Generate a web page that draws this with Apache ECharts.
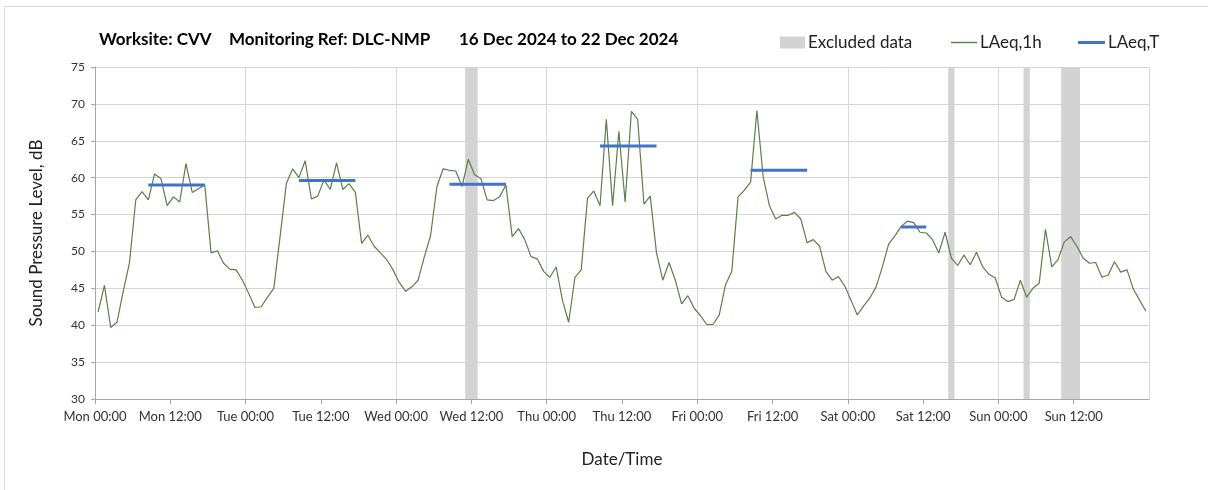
<!DOCTYPE html>
<html>

<head>
    <title></title>
    <meta charset="utf-8">
    <script src="https://cdn.jsdelivr.net/npm/echarts@6/dist/echarts.min.js"></script>
    <style>
        html,
        body {
            margin: 0;
            padding: 0;
            background: #fff;
        }

        #main {
            width: 1208px;
            height: 490px;
        }
    </style>
</head>

<body>
    <div id="main"></div>
    <script type="text/javascript">
        // hourly LAeq,1h values, one array per day (points at hh:30)
        var mon = [41.8, 45.4, 39.7, 40.4, 44.6, 48.5, 57.0, 58.1, 57.0, 60.5, 59.9, 56.2, 57.4, 56.7, 61.9, 58.0, 58.5, 59.0, 49.8, 50.1, 48.4, 47.6, 47.5, 46.1];
        var tue = [44.3, 42.4, 42.5, 43.8, 45.0, 52.0, 59.2, 61.2, 60.0, 62.3, 57.1, 57.5, 59.7, 58.4, 62.0, 58.4, 59.2, 58.0, 51.1, 52.2, 50.7, 49.8, 48.9, 47.5];
        var wed = [45.8, 44.6, 45.2, 46.1, 49.3, 52.2, 58.8, 61.2, 61.0, 60.9, 58.8, 62.5, 60.4, 59.9, 57.0, 56.9, 57.4, 59.0, 52.0, 53.1, 51.6, 49.3, 49.0, 47.3];
        var thu = [46.5, 47.9, 43.4, 40.4, 46.5, 47.5, 57.2, 58.2, 56.2, 67.9, 56.2, 66.3, 56.7, 69.0, 67.9, 56.4, 57.5, 49.8, 46.1, 48.5, 46.1, 42.9, 44.0, 42.3];
        var fri = [41.3, 40.1, 40.1, 41.4, 45.5, 47.3, 57.4, 58.3, 59.4, 69.1, 60.1, 56.2, 54.4, 54.9, 54.9, 55.3, 54.4, 51.2, 51.6, 50.7, 47.3, 46.1, 46.6, 45.3];
        var sat = [43.4, 41.4, 42.6, 43.7, 45.2, 47.9, 51.0, 52.1, 53.4, 54.1, 53.9, 52.6, 52.5, 51.6, 49.8, 52.6, 49.1, 48.1, 49.5, 48.2, 49.9, 47.9, 46.9, 46.4];
        var sun = [43.8, 43.2, 43.5, 46.1, 43.8, 45.0, 45.7, 53.0, 47.9, 48.9, 51.3, 52.0, 50.7, 49.1, 48.4, 48.5, 46.5, 46.8, 48.6, 47.2, 47.5, 44.9, 43.4, 41.9];

        // LAeq,T periods (hours from Mon 00:00)
        var tStart = [8.5, 32.5, 56.5, 80.5, 104.5, 128.5];
        var tEnd = [17.5, 41.5, 65.5, 89.5, 113.5, 132.5];
        var tValue = [59.0, 59.6, 59.1, 64.3, 61.0, 53.3];

        // excluded data periods (hours from Mon 00:00)
        var exStart = [59, 136, 148, 154];
        var exEnd = [61, 137, 149, 157];

        var dayNames = ['Mon', 'Tue', 'Wed', 'Thu', 'Fri', 'Sat', 'Sun', 'Mon'];
        var fontName = 'Lato, "Open Sans", sans-serif';

        var days = [mon, tue, wed, thu, fri, sat, sun];
        var hourly = [];
        days.forEach(function (d, di) {
            d.forEach(function (v, hi) {
                hourly.push([di * 24 + hi + 0.5, v]);
            });
        });

        var periods = [];
        for (var i = 0; i < tStart.length; i++) {
            periods.push([tStart[i], tValue[i]]);
            periods.push([tEnd[i], tValue[i]]);
            periods.push('-');
        }

        var areas = [];
        for (var j = 0; j < exStart.length; j++) {
            areas.push([{ xAxis: exStart[j] }, { xAxis: exEnd[j] }]);
        }

        var titleStyle = { fontSize: 17, fontWeight: 'bold', color: '#000', fontFamily: fontName };
        var legendText = { fontSize: 17, color: '#222', fontFamily: fontName, padding: [0, 0, 0, -2] };

        var myChart = echarts.init(document.getElementById('main'));
        var option = {
            animation: false,
            textStyle: { fontFamily: fontName },
            graphic: [{
                type: 'rect',
                shape: { x: 4.5, y: 6.5, width: 1220, height: 500 },
                style: { fill: 'none', stroke: '#d9d9d9', lineWidth: 1 },
                silent: true
            }],
            title: [
                { text: 'Worksite: CVV', left: 94, top: 26, textStyle: titleStyle },
                { text: 'Monitoring Ref: DLC-NMP', left: 224, top: 26, textStyle: titleStyle },
                { text: '16 Dec 2024 to 22 Dec 2024', left: 454, top: 26, textStyle: titleStyle }
            ],
            legend: [{
                left: 775, top: 29, itemWidth: 25, itemHeight: 12,
                textStyle: legendText,
                data: [{ name: 'Excluded data', icon: 'rect', itemStyle: { color: '#d3d3d3' } }]
            }, {
                left: 946, top: 29, itemWidth: 26, itemHeight: 1.4,
                textStyle: legendText,
                data: [{ name: 'LAeq,1h', icon: 'rect' }]
            }, {
                left: 1073, top: 29, itemWidth: 27, itemHeight: 3,
                textStyle: legendText,
                data: [{ name: 'LAeq,T', icon: 'rect' }]
            }],
            grid: { left: 95, right: 59, top: 67, bottom: 91 },
            xAxis: {
                type: 'value',
                min: 0,
                max: 168,
                interval: 12,
                name: 'Date/Time',
                nameLocation: 'middle',
                nameGap: 52,
                nameTextStyle: { fontSize: 17, color: '#222' },
                axisLine: { lineStyle: { color: '#a6a6a6', width: 1 } },
                axisTick: { length: 5, lineStyle: { color: '#a6a6a6' } },
                axisLabel: {
                    fontSize: 13,
                    color: '#333',
                    margin: 11,
                    showMaxLabel: false,
                    formatter: function (v) {
                        return dayNames[Math.floor(v / 24)] + ' ' + (v % 24 === 0 ? '00:00' : '12:00');
                    }
                },
                splitLine: { show: true, lineStyle: { color: ['#d9d9d9', 'rgba(0,0,0,0)'], width: 1 } }
            },
            yAxis: {
                type: 'value',
                min: 30,
                max: 75,
                interval: 5,
                name: 'Sound Pressure Level, dB',
                nameLocation: 'middle',
                nameGap: 50,
                nameTextStyle: { fontSize: 17, color: '#222' },
                axisLine: { show: true, lineStyle: { color: '#a6a6a6', width: 1 } },
                axisTick: { show: true, length: 4, lineStyle: { color: '#a6a6a6' } },
                axisLabel: { fontSize: 12, color: '#333', margin: 10 },
                splitLine: { lineStyle: { color: '#d4d4d4', width: 1 } }
            },
            series: [{
                name: 'Excluded data',
                type: 'line',
                data: [],
                itemStyle: { color: '#d3d3d3' },
                markArea: {
                    silent: true,
                    itemStyle: { color: '#d3d3d3' },
                    data: areas
                }
            }, {
                name: 'LAeq,1h',
                type: 'line',
                data: hourly,
                showSymbol: false,
                symbol: 'none',
                lineStyle: { color: '#5e7e48', width: 1.2 },
                itemStyle: { color: '#5e7e48' },
                z: 3
            }, {
                name: 'LAeq,T',
                type: 'line',
                data: periods,
                showSymbol: false,
                symbol: 'none',
                connectNulls: false,
                lineStyle: { color: '#4472c4', width: 3 },
                itemStyle: { color: '#4472c4' },
                z: 4
            }]
        };
        myChart.setOption(option);
    </script>
</body>

</html>
